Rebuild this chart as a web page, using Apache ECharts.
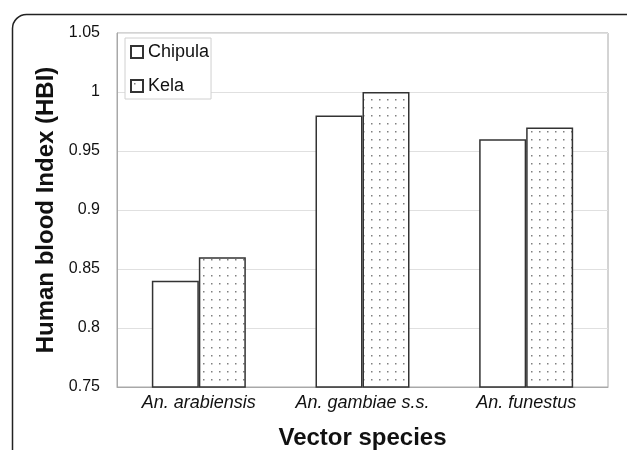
<!DOCTYPE html>
<html><head><meta charset="utf-8">
<script src="https://cdn.jsdelivr.net/npm/echarts@6/dist/echarts.min.js"></script>
<style>html,body{margin:0;padding:0;background:#fff}#c{width:627px;height:450px}</style>
</head><body><div id="c"></div>
<script>
const categories = ['An. arabiensis', 'An. gambiae s.s.', 'An. funestus'];
const chipula = [0.84, 0.98, 0.96];
const kela = [0.86, 1.00, 0.97];
const seriesNames = ['Chipula', 'Kela'];

function dotPattern() {
  const c = document.createElement('canvas');
  c.width = 8; c.height = 8;
  const g = c.getContext('2d');
  g.fillStyle = '#fff'; g.fillRect(0, 0, 8, 8);
  g.fillStyle = '#808080';
  g.fillRect(3, 3, 1.5, 1.5);
  return c;
}
const pat = { image: dotPattern(), repeat: 'repeat' };

const chart = echarts.init(document.getElementById('c'), null, { renderer: 'canvas' });
const font = 'Liberation Sans, Arial, sans-serif';
chart.setOption({
  animation: false,
  backgroundColor: '#fff',
  textStyle: { fontFamily: font },
  graphic: [{
    type: 'rect', left: 10, top: 12, z: -10,
    shape: { width: 660, height: 480, r: 14 },
    style: { fill: 'none', stroke: '#222', lineWidth: 1.5 }
  }],
  grid: { left: 117, right: 19, top: 33, bottom: 63, show: true, borderColor: '#a8a8a8', borderWidth: 1,
    containLabel: false, outerBoundsMode: 'none' },
  legend: {
    orient: 'vertical', left: 125, top: 38,
    backgroundColor: '#fff', borderColor: '#d0d0d0', borderWidth: 1,
    padding: [5, 2, 4, 5], itemGap: 16,
    itemWidth: 12, itemHeight: 12, icon: 'rect',
    textStyle: { fontSize: 18, color: '#111', fontFamily: font },
    data: seriesNames
  },
  xAxis: {
    type: 'category', data: categories,
    name: 'Vector species', nameLocation: 'middle', nameGap: 39,
    nameTextStyle: { fontSize: 24, fontWeight: 'bold', color: '#111', fontFamily: font },
    axisLine: { lineStyle: { color: '#a8a8a8' } },
    axisTick: { show: false },
    axisLabel: { interval: 0, hideOverlap: false, fontSize: 18, fontStyle: 'italic', color: '#111', margin: 7, fontFamily: font }
  },
  yAxis: {
    type: 'value', min: 0.75, max: 1.05, interval: 0.05,
    name: 'Human blood Index (HBI)', nameLocation: 'middle', nameGap: 52,
    nameTextStyle: { fontSize: 24, fontWeight: 'bold', color: '#111', fontFamily: font },
    axisLine: { show: true, lineStyle: { color: '#a8a8a8' } },
    axisTick: { show: false },
    splitLine: { lineStyle: { color: '#e0e0e0' } },
    axisLabel: { fontSize: 16, color: '#111', margin: 17, fontFamily: font,
      formatter: v => String(+v.toFixed(2)) }
  },
  series: [
    { name: seriesNames[0], type: 'bar', data: chipula, barWidth: 47, barGap: '0%',
      itemStyle: { color: '#fff', borderColor: '#333', borderWidth: 1.5 } },
    { name: seriesNames[1], type: 'bar', data: kela, barWidth: 47,
      itemStyle: { color: pat, borderColor: '#333', borderWidth: 1.5 } }
  ]
});
</script></body></html>
